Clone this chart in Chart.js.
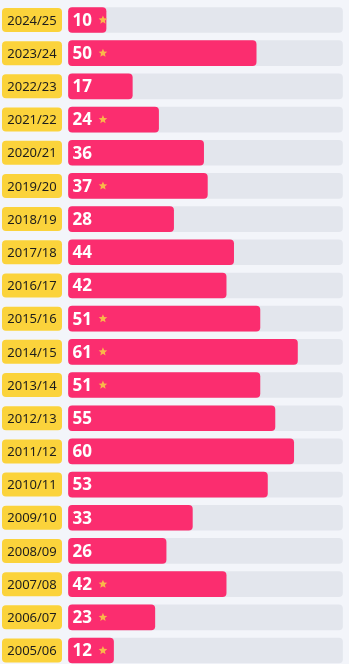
<!DOCTYPE html>
<html>
<head>
<meta charset="utf-8">
<script src="https://cdn.jsdelivr.net/npm/chart.js@4"></script>
<style>
  html, body { margin: 0; padding: 0; background: #f3f5fa; }
  #wrap { width: 349px; height: 664px; position: relative; }
</style>
</head>
<body>
<div id="wrap"><canvas id="myChart"></canvas></div>
<script>
// seasons, top to bottom
const seasons = [
    '2024/25', '2023/24', '2022/23', '2021/22', '2020/21',
    '2019/20', '2018/19', '2017/18', '2016/17', '2015/16',
    '2014/15', '2013/14', '2012/13', '2011/12', '2010/11',
    '2009/10', '2008/09', '2007/08', '2006/07', '2005/06'
];
const values = [10, 50, 17, 24, 36, 37, 28, 44, 42, 51, 61, 51, 55, 60, 53, 33, 26, 42, 23, 12];
// seasons marked with a little star
const starred = [true, true, false, true, false, true, false, false, false, true,
                 true, true, false, false, false, false, false, true, true, true];
const axisMax = 73;

const pink = '#fb2d6f';
const yellow = '#fbd33b';
const track = '#e3e6ed';

function drawStar(ctx, cx, cy, r) {
    ctx.beginPath();
    for (var i = 0; i < 10; i++) {
        var rad = i % 2 === 0 ? r : r * 0.45;
        var a = -Math.PI / 2 + i * Math.PI / 5;
        var px = cx + Math.cos(a) * rad;
        var py = cy + Math.sin(a) * rad;
        if (i === 0) ctx.moveTo(px, py); else ctx.lineTo(px, py);
    }
    ctx.closePath();
    ctx.fill();
}

// yellow season tags + value text + stars
const labelsPlugin = {
    id: 'labelsPlugin',
    afterDatasetsDraw(chart) {
        const ctx = chart.ctx;
        const y = chart.scales.y;
        const x = chart.scales.x;
        ctx.save();
        for (var i = 0; i < seasons.length; i++) {
            var cy = y.getPixelForValue(i);

            ctx.fillStyle = yellow;
            ctx.beginPath();
            ctx.roundRect(2, cy - 12, 60, 24, 4);
            ctx.fill();
            ctx.fillStyle = '#1d1d1d';
            ctx.font = '13px "Noto Sans"';
            ctx.textAlign = 'center';
            ctx.textBaseline = 'middle';
            ctx.fillText(seasons[i], 32, cy + 1);

            ctx.fillStyle = '#ffffff';
            ctx.font = 'bold 17px "Open Sans"';
            ctx.textAlign = 'left';
            var tx = x.getPixelForValue(0) + 4;
            ctx.fillText(String(values[i]), tx, cy + 1);
            if (starred[i]) {
                var w = ctx.measureText(String(values[i])).width;
                ctx.fillStyle = '#f9b74a';
                drawStar(ctx, tx + w + 11, cy, 4.5);
            }
        }
        ctx.restore();
    }
};

new Chart(document.getElementById('myChart'), {
    type: 'bar',
    data: {
        labels: seasons,
        datasets: [{
            data: values,
            backgroundColor: pink,
            borderRadius: 4,
            borderSkipped: false,
            barThickness: 25,
            grouped: false,
            clip: false,
            order: 1
        }, {
            data: seasons.map(function () { return axisMax; }),
            backgroundColor: track,
            borderRadius: 4,
            borderSkipped: false,
            barThickness: 25,
            grouped: false,
            clip: false,
            order: 2
        }]
    },
    options: {
        indexAxis: 'y',
        responsive: true,
        maintainAspectRatio: false,
        animation: false,
        layout: { padding: { left: 68.5, right: 6.5, top: 20, bottom: 13.5 } },
        plugins: { legend: { display: false }, tooltip: { enabled: false } },
        scales: {
            x: { display: false, min: 0, max: axisMax },
            y: { display: false, offset: false }
        }
    },
    plugins: [labelsPlugin]
});
</script>
</body>
</html>
